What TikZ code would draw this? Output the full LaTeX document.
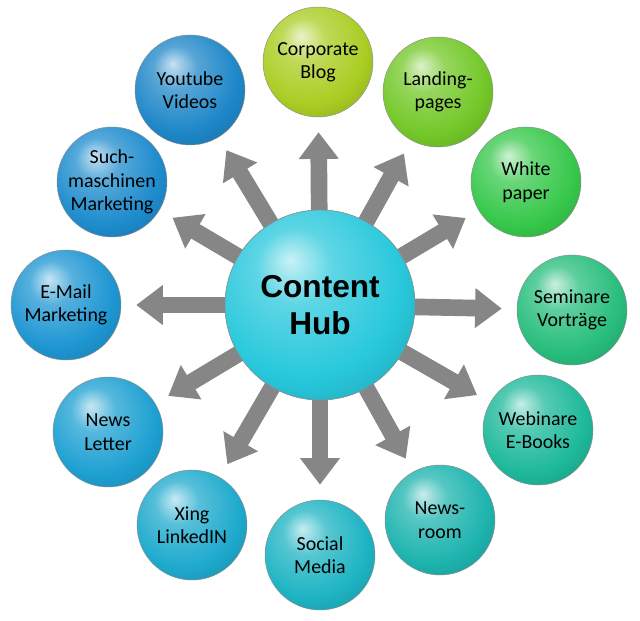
\documentclass[tikz,border=0pt]{standalone}
\usepackage{fontspec}
\setmainfont{Carlito}
\newfontfamily\hubfont{Liberation Sans}
\usetikzlibrary{arrows.meta,shadings}

\definecolor{cBlog}{RGB}{170,205,35}
\definecolor{cLand}{RGB}{115,200,40}
\definecolor{cWhite}{RGB}{55,200,75}
\definecolor{cSem}{RGB}{40,190,125}
\definecolor{cWeb}{RGB}{30,185,155}
\definecolor{cNews}{RGB}{30,180,175}
\definecolor{cSoc}{RGB}{30,180,195}
\definecolor{cXing}{RGB}{30,170,205}
\definecolor{cLet}{RGB}{30,160,210}
\definecolor{cMail}{RGB}{30,150,210}
\definecolor{cSuch}{RGB}{30,140,205}
\definecolor{cTube}{RGB}{30,135,200}
\definecolor{cHub}{RGB}{40,200,220}

\colorlet{mainc}{cHub}
\pgfdeclareradialshading[mainc]{glossball}{\pgfpoint{-8bp}{12bp}}{%
  color(0bp)=(mainc!25!white); color(10bp)=(mainc!75!white);
  color(26bp)=(mainc); color(40bp)=(mainc!80!black); color(60bp)=(mainc!55!black)}

\tikzset{
  ball/.style={circle,draw=black!45,thin,/utils/exec={\colorlet{mainc}{#1}},shading=glossball,
    minimum size=3.3cm,inner sep=0pt,align=center,font=\fontsize{17}{20}\selectfont},
  hubball/.style={ball=#1,minimum size=5.7cm,font=\hubfont\bfseries\fontsize{27}{32}\selectfont},
  spoke/.style={draw=gray!95,line width=0.5cm,shorten <=-0.2cm,shorten >=0.45cm,
    -{Triangle[width=1.15cm,length=0.8cm]}}
}

\begin{document}
\begin{tikzpicture}[x=0.03cm,y=-0.03cm]
\useasboundingbox (0,0) rectangle (640,621);

\node[hubball=cHub] (hub) at (320,305) {Content\\Hub};

\node[ball=cBlog]  (blog)  at (318,62)  {Corporate\\Blog};
\node[ball=cLand]  (land)  at (438,92)  {Landing-\\pages};
\node[ball=cWhite] (white) at (526,182) {White\\paper};
\node[ball=cSem]   (sem)   at (572,310) {Seminare\\Vorträge};
\node[ball=cWeb]   (web)   at (538,430) {Webinare\\E-Books};
\node[ball=cNews]  (news)  at (440,520) {News-\\room};
\node[ball=cSoc]   (soc)   at (320,555) {Social\\Media};
\node[ball=cXing]  (xing)  at (192,525) {Xing\\LinkedIN};
\node[ball=cLet]   (let)   at (108,432) {News\\Letter};
\node[ball=cMail]  (mail)  at (66,305)  {E-Mail\\Marketing};
\node[ball=cSuch]  (such)  at (112,182) {Such-\\maschinen\\Marketing};
\node[ball=cTube]  (tube)  at (190,90)  {Youtube\\Videos};

% spokes
\foreach \t in {blog,land,white,sem,web,news,soc,xing,let,mail,such,tube}
  \draw[spoke] (hub) -- (\t);

\node[hubball=cHub] (hubtop) at (hub) {Content\\Hub};
\end{tikzpicture}
\end{document}
